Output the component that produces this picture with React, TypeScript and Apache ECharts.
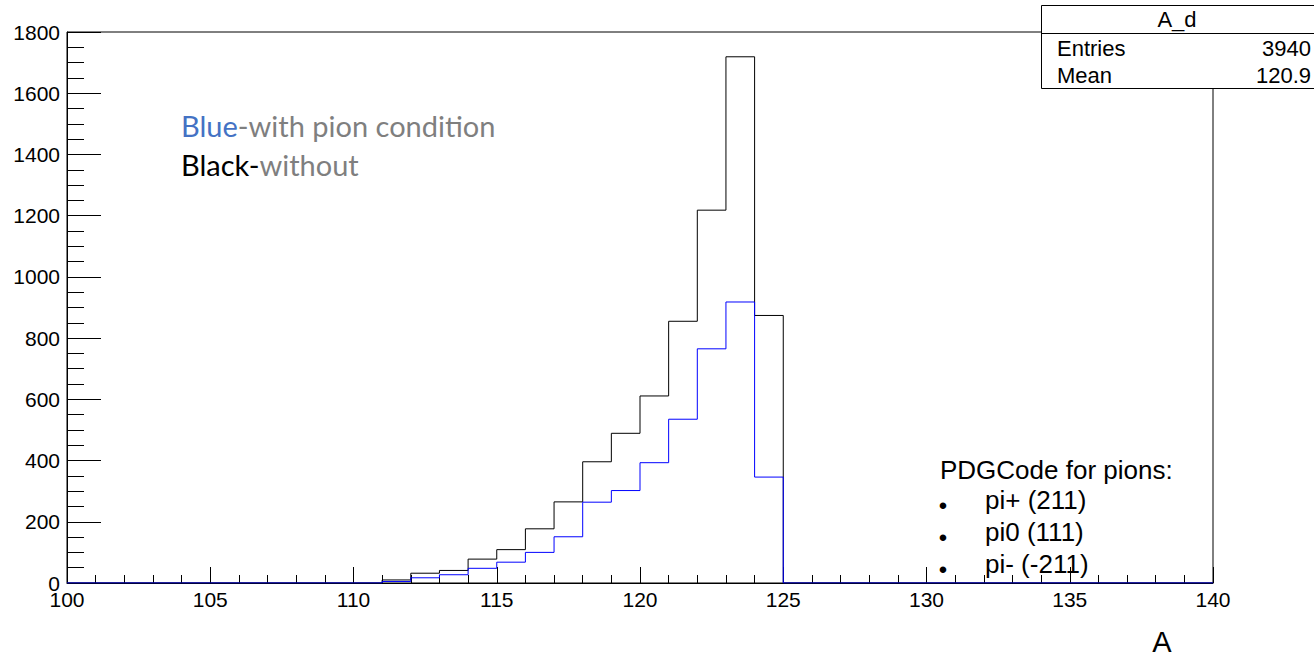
import React, { useEffect, useRef } from "react";
import * as echarts from "echarts";

const binLowEdges = [
  100, 101, 102, 103, 104, 105, 106, 107, 108, 109,
  110, 111, 112, 113, 114, 115, 116, 117, 118, 119,
  120, 121, 122, 123, 124, 125, 126, 127, 128, 129,
  130, 131, 132, 133, 134, 135, 136, 137, 138, 139,
];
const upperEdge = 140;

// Black: without pion condition
const countsWithout = [
  0, 0, 0, 0, 0, 0, 0, 0, 0, 0,
  0, 10, 32, 41, 78, 109, 177, 265, 396, 489,
  611, 855, 1218, 1719, 874, 0, 0, 0, 0, 0,
  0, 0, 0, 0, 0, 0, 0, 0, 0, 0,
];
// Blue: with pion condition
const countsWithPion = [
  0, 0, 0, 0, 0, 0, 0, 0, 0, 0,
  0, 5, 17, 27, 48, 68, 100, 151, 264, 302,
  393, 535, 765, 918, 346, 0, 0, 0, 0, 0,
  0, 0, 0, 0, 0, 0, 0, 0, 0, 0,
];

const xAxisTitle = "A";
const statsTitle = "A_d";
const statsRows = [
  ["Entries", "3940"],
  ["Mean", "120.9"],
];
const pdgTitle = "PDGCode for pions:";
const pdgLines = ["pi+ (211)", "pi0 (111)", "pi- (-211)"];

const histData = (counts: number[]) => {
  const d = binLowEdges.map((x, i) => [x, counts[i]]);
  d.push([upperEdge, counts[counts.length - 1]]);
  return d;
};

export default function App() {
  const ref = useRef<HTMLDivElement>(null);
  useEffect(() => {
    if (!ref.current) return;
    const chart = echarts.init(ref.current, null, { renderer: "svg" });
    const axisFont = "'Liberation Sans', Arial, Helvetica, sans-serif";
    const officeFont = "Lato, 'Open Sans', sans-serif";
    chart.setOption({
      animation: false,
      backgroundColor: "#ffffff",
      grid: {
        left: 67,
        right: 101,
        top: 32,
        bottom: 76,
        show: true,
        borderColor: "#000",
        borderWidth: 1,
        backgroundColor: "#fff",
      },
      xAxis: {
        type: "value",
        min: 100,
        max: 140,
        interval: 5,
        axisLine: { show: true, onZero: false, lineStyle: { color: "#000", width: 1 } },
        axisTick: { show: true, inside: true, length: 16, lineStyle: { color: "#000" } },
        minorTick: { show: true, splitNumber: 5, length: 8, lineStyle: { color: "#000" } },
        splitLine: { show: false },
        axisLabel: {
          color: "#000",
          fontSize: 21,
          fontFamily: axisFont,
          margin: 6,
          formatter: (v: number) => String(v),
        },
      },
      yAxis: {
        type: "value",
        min: 0,
        max: 1800,
        interval: 200,
        axisLine: { show: true, onZero: false, lineStyle: { color: "#000", width: 1 } },
        axisTick: { show: true, inside: true, length: 34, lineStyle: { color: "#000" } },
        minorTick: { show: true, splitNumber: 4, length: 17, lineStyle: { color: "#000" } },
        splitLine: { show: false },
        axisLabel: {
          color: "#000",
          fontSize: 21,
          fontFamily: axisFont,
          margin: 7,
          formatter: (v: number) => String(v),
        },
      },
      series: [
        {
          type: "line",
          name: "without",
          step: "end",
          data: histData(countsWithout),
          showSymbol: false,
          symbol: "none",
          lineStyle: { color: "#000000", width: 1 },
          z: 3,
        },
        {
          type: "line",
          name: "with pion condition",
          step: "end",
          data: histData(countsWithPion),
          showSymbol: false,
          symbol: "none",
          lineStyle: { color: "#0000ff", width: 1 },
          z: 4,
        },
      ],
      graphic: [
        {
          type: "text",
          x: 1162,
          y: 642,
          style: {
            text: xAxisTitle,
            fontSize: 29,
            fontFamily: axisFont,
            fill: "#000",
            align: "center",
            verticalAlign: "middle",
          },
        },
        {
          type: "rect",
          shape: { x: 1041.5, y: 5.5, width: 300, height: 83 },
          style: { fill: "#fff", stroke: "#000", lineWidth: 1 },
          z: 10,
        },
        {
          type: "line",
          shape: { x1: 1041.5, y1: 33.5, x2: 1314, y2: 33.5 },
          style: { stroke: "#000", lineWidth: 1 },
          z: 11,
        },
        {
          type: "text",
          x: 1177,
          y: 19,
          style: {
            text: statsTitle,
            fontSize: 22,
            fontFamily: axisFont,
            fill: "#000",
            align: "center",
            verticalAlign: "middle",
          },
          z: 11,
        },
        ...statsRows.flatMap((row, i) => [
          {
            type: "text",
            x: 1057,
            y: 48 + i * 27,
            style: {
              text: row[0],
              fontSize: 22,
              fontFamily: axisFont,
              fill: "#000",
              align: "left",
              verticalAlign: "middle",
            },
            z: 11,
          },
          {
            type: "text",
            x: 1311,
            y: 48 + i * 27,
            style: {
              text: row[1],
              fontSize: 22,
              fontFamily: axisFont,
              fill: "#000",
              align: "right",
              verticalAlign: "middle",
            },
            z: 11,
          },
        ]),
        {
          type: "text",
          x: 181,
          y: 125,
          style: {
            text: "{b|Blue}{g|-with pion condition}",
            verticalAlign: "middle",
            rich: {
              b: { fontSize: 29, fontFamily: officeFont, fill: "#4472c4", color: "#4472c4" },
              g: { fontSize: 29, fontFamily: officeFont, fill: "#7f7f7f", color: "#7f7f7f" },
            },
          },
          z: 12,
        },
        {
          type: "text",
          x: 181,
          y: 164,
          style: {
            text: "{k|Black-}{g|without}",
            verticalAlign: "middle",
            rich: {
              k: { fontSize: 29, fontFamily: officeFont, fill: "#000", color: "#000" },
              g: { fontSize: 29, fontFamily: officeFont, fill: "#7f7f7f", color: "#7f7f7f" },
            },
          },
          z: 12,
        },
        {
          type: "text",
          x: 940,
          y: 470,
          style: {
            text: pdgTitle,
            fontSize: 26,
            fontFamily: axisFont,
            fill: "#000",
            verticalAlign: "middle",
          },
          z: 12,
        },
        ...pdgLines.flatMap((t, i) => [
          {
            type: "text",
            x: 943,
            y: 505 + i * 32,
            style: {
              text: "•",
              fontSize: 24,
              fontFamily: axisFont,
              fill: "#000",
              align: "center",
              verticalAlign: "middle",
            },
            z: 12,
          },
          {
            type: "text",
            x: 985,
            y: 500 + i * 32,
            style: {
              text: t,
              fontSize: 26,
              fontFamily: axisFont,
              fill: "#000",
              verticalAlign: "middle",
            },
            z: 12,
          },
        ]),
      ],
    });
    return () => chart.dispose();
  }, []);
  return (
    <div
      ref={ref}
      style={{ position: "fixed", left: 0, top: 0, width: 1314, height: 659, background: "#fff" }}
    />
  );
}
